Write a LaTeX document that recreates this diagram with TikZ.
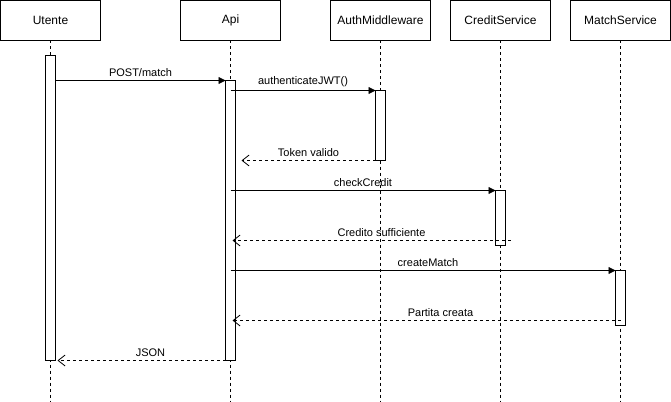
\documentclass[tikz,border=0pt]{standalone}
\usepackage{fontspec}
\setmainfont{Liberation Sans}
\usetikzlibrary{arrows.meta,positioning}
\tikzset{
  head/.style={draw, minimum width=100pt, minimum height=40pt, inner sep=0pt, outer sep=0pt, font=\fontsize{12}{14}\selectfont},
  act/.style={draw, fill=white, minimum width=10pt, inner sep=0pt, outer sep=0pt},
  life/.style={dash pattern=on 3pt off 3pt},
  call/.style={-{Triangle[length=7pt,width=7pt]}},
  reply/.style={dash pattern=on 3pt off 3pt, -{Straight Barb[length=7pt,width=11pt,line width=0.8pt]}},
  msg/.style={font=\fontsize{11}{13}\selectfont, above, inner sep=3pt}
}
\begin{document}
\begin{tikzpicture}[x=1pt, y=-1pt, line width=0.8pt]
  \useasboundingbox (-0.5,-0.5) rectangle (670.5,400.5);
  % heads
  \node[head] (utente) at (50,20) {Utente};
  \node[head, right=80pt of utente] (api) {Api};
  \node[head, right=50pt of api] (auth) {AuthMiddleware};
  \node[head, right=20pt of auth] (credit) {CreditService};
  \node[head, right=20pt of credit] (match) {MatchService};
  % lifelines
  \foreach \n in {utente,api,auth,credit,match}
    \draw[life] (\n.south) -- (\n.south |- 0,401) coordinate (\n end);
  % activations
  \node[act, minimum height=305pt] (utenteA) at (50,207.5) {};
  \node[act, minimum height=280pt] (apiA) at (230,220) {};
  \node[act, minimum height=70pt] (authA) at (380,125) {};
  \node[act, minimum height=55pt] (creditA) at (500,217.5) {};
  \node[act, minimum height=55pt] (matchA) at (620,297.5) {};
  % messages
  \draw[call] (utenteA.east |- apiA.north) -- node[msg] {POST/match} (apiA.north west);
  \draw[call] (apiA.center |- authA.north) -- node[msg] {authenticateJWT()} (authA.north west);
  \draw[reply] (authA.south west) -- node[msg] {Token valido} ([xshift=11pt]apiA.center |- authA.south);
  \draw[call] (apiA.center |- creditA.north) -- node[msg] {checkCredit} (creditA.north west);
  \draw[reply] ([xshift=5pt]creditA.east |- 0,240) -- node[msg, xshift=10pt] {Credito sufficiente} ([xshift=2pt]apiA.center |- 0,240);
  \draw[call] (apiA.center |- matchA.north) -- node[msg, xshift=5pt] {createMatch} (matchA.north west);
  \draw[reply] (matchA.center |- 0,320) -- node[msg, xshift=14pt] {Partita creata} ([xshift=2pt]apiA.center |- 0,320);
  \draw[reply] (apiA.south west) -- node[msg, xshift=9pt] {JSON} ([xshift=2pt]utenteA.east |- apiA.south);
\end{tikzpicture}
\end{document}
